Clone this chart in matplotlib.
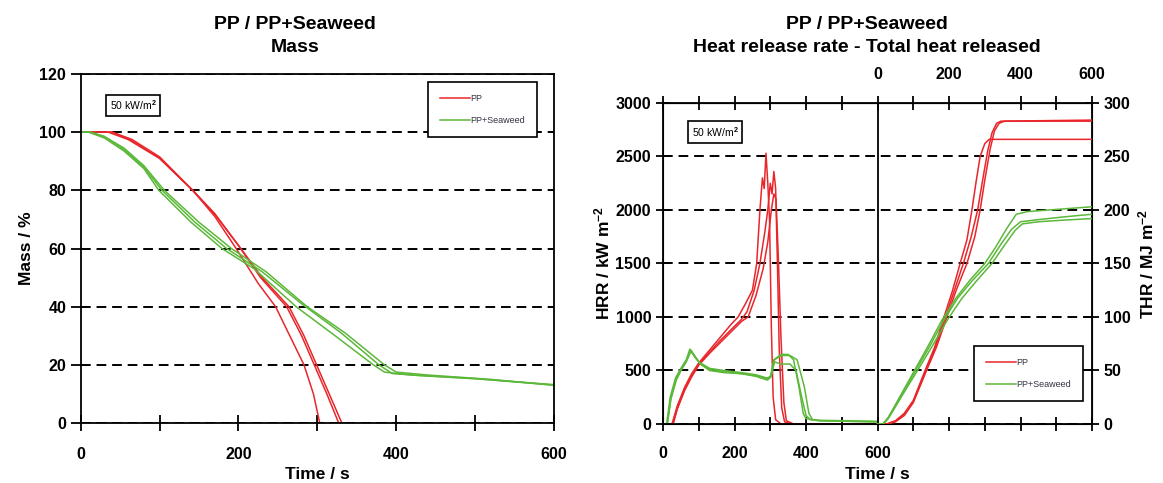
import matplotlib.pyplot as plt

# Font chữ
plt.rcParams['font.family'] = ['Liberation Sans', 'DejaVu Sans']
plt.rcParams['font.weight'] = 'bold'
plt.rcParams['mathtext.fontset'] = 'custom'
plt.rcParams['mathtext.rm'] = 'Liberation Sans:bold'
plt.rcParams['mathtext.default'] = 'rm'

# ---- Dữ liệu khối lượng (Mass, %) ----
t_mass_pp1 = [0, 35, 60, 100, 142, 170, 197, 225, 247, 265, 283, 295, 303]
mass_pp1 = [100, 100, 97.5, 91, 80, 71, 60, 48, 40, 30, 20, 10, 0]
t_mass_pp2 = [0, 40, 65, 100, 142, 170, 200, 228, 261, 280, 296, 312, 327]
mass_pp2 = [100, 100, 97.5, 91.5, 80, 72, 61, 50, 40, 30, 20, 10, 0]
t_mass_pp3 = [0, 40, 65, 100, 142, 172, 203, 230, 264, 283, 299, 315, 331]
mass_pp3 = [100, 100, 97, 91, 80, 71, 60, 50, 40, 30, 20, 10, 0]

t_mass_sw1 = [0, 10, 30, 55, 80, 99, 140, 179, 220, 273, 320, 371, 385, 420, 500, 600]
mass_sw1 = [100, 100, 98, 93.5, 87.5, 80, 69, 60, 53, 40, 30.5, 20, 17.5, 16.5, 15.3, 13]
t_mass_sw2 = [0, 12, 30, 55, 80, 103, 145, 185, 230, 280, 330, 378, 395, 430, 500, 600]
mass_sw2 = [100, 100, 98.5, 94, 88, 80, 69, 60, 52, 41, 31, 20, 17, 16.3, 15.2, 13.2]
t_mass_sw3 = [0, 12, 30, 55, 80, 106, 150, 191, 235, 287, 335, 385, 400, 440, 520, 600]
mass_sw3 = [100, 100, 98.5, 94.5, 88.5, 80, 69, 60, 52, 40, 31, 20, 17.5, 16.5, 15, 13]

# ---- Dữ liệu HRR (kW/m2) ----
t_hrr_pp1 = [0, 25, 40, 60, 80, 100, 130, 160, 190, 210, 230, 250, 262, 271, 278, 283, 288, 293,
             298, 303, 308, 315, 330, 600]
hrr_pp1 = [0, 0, 170, 340, 470, 570, 690, 810, 930, 1000, 1120, 1250, 1500, 2000, 2300, 2200, 2530,
           2250, 1900, 900, 250, 40, 0, 0]
t_hrr_pp2 = [0, 28, 40, 60, 80, 100, 130, 160, 190, 220, 235, 255, 271, 285, 293, 300, 305, 310,
             315, 320, 325, 332, 340, 360, 600]
hrr_pp2 = [0, 0, 150, 320, 450, 560, 670, 780, 880, 980, 1050, 1250, 1500, 1800, 2000, 2250, 2150,
           2360, 2200, 1500, 700, 150, 20, 0, 0]
t_hrr_pp3 = [0, 28, 40, 60, 80, 100, 130, 160, 190, 220, 238, 260, 280, 293, 303, 310, 316, 322,
             330, 338, 345, 365, 600]
hrr_pp3 = [0, 0, 140, 310, 440, 550, 660, 760, 860, 960, 1000, 1200, 1450, 1700, 2000, 2150, 2100,
           1600, 800, 200, 30, 0, 0]

t_hrr_sw1 = [0, 10, 20, 35, 50, 65, 75, 85, 100, 130, 170, 220, 260, 290, 300, 310, 330, 350, 365,
             380, 392, 400, 430, 600]
hrr_sw1 = [0, 0, 250, 430, 520, 600, 700, 650, 580, 520, 500, 480, 460, 430, 440, 600, 650, 650, 600,
           350, 100, 50, 35, 25]
t_hrr_sw2 = [0, 12, 22, 37, 50, 65, 78, 90, 105, 130, 170, 220, 260, 292, 302, 312, 330, 355, 372,
             388, 400, 412, 440, 600]
hrr_sw2 = [0, 0, 250, 420, 500, 590, 690, 630, 560, 510, 490, 470, 450, 420, 450, 580, 560, 560, 500,
           250, 80, 40, 30, 20]
t_hrr_sw3 = [0, 12, 22, 37, 50, 65, 78, 90, 105, 130, 170, 220, 260, 292, 302, 312, 330, 355, 375,
             395, 408, 418, 440, 600]
hrr_sw3 = [0, 0, 230, 410, 500, 580, 680, 620, 560, 500, 480, 470, 445, 410, 440, 600, 640, 640, 600,
           350, 100, 40, 30, 20]

# ---- Dữ liệu THR (MJ/m2) ----
t_thr_pp1 = [0, 25, 50, 75, 100, 133, 160, 186, 210, 231, 250, 264, 275, 287, 300, 312, 330, 600]
thr_pp1 = [0, 0, 3, 10, 22, 50, 72, 100, 125, 150, 172, 200, 225, 250, 262, 266, 266, 266]
t_thr_pp2 = [0, 28, 50, 75, 100, 135, 162, 190, 215, 240, 262, 280, 295, 308, 320, 333, 345, 600]
thr_pp2 = [0, 0, 2.5, 9, 21, 50, 72, 100, 125, 150, 175, 200, 230, 255, 272, 281, 283, 284]
t_thr_pp3 = [0, 28, 50, 75, 100, 137, 165, 194, 220, 250, 272, 287, 300, 315, 327, 340, 355, 600]
thr_pp3 = [0, 0, 2, 8, 20, 50, 72, 100, 125, 150, 175, 200, 228, 257, 274, 281, 283, 283]

t_thr_sw1 = [0, 15, 30, 50, 75, 100, 140, 180, 220, 260, 300, 330, 360, 388, 420, 500, 600]
thr_sw1 = [0, 0, 6, 18, 33, 48, 72, 97, 118, 135, 150, 165, 182, 196, 198.5, 200.5, 203]
t_thr_sw2 = [0, 16, 30, 50, 75, 105, 145, 187, 225, 265, 310, 345, 375, 400, 450, 520, 600]
thr_sw2 = [0, 0, 6, 17, 32, 49, 72, 98, 118, 134, 150, 168, 182, 189, 191, 193.5, 196]
t_thr_sw3 = [0, 16, 30, 50, 75, 110, 150, 195, 235, 275, 320, 355, 385, 405, 450, 520, 600]
thr_sw3 = [0, 0, 5, 16, 30, 49, 71, 97, 117, 133, 150, 167, 181, 187, 189, 190.5, 192]

# Nhãn trục x
x_labels = ['0', '200', '400', '600']

RED = '#e8262b'
GREEN = '#5cb83a'
DASH = (0, (5, 3))

fig = plt.figure(figsize=(11.63, 4.83), dpi=100)

# ================= Biểu đồ khối lượng =================
ax1 = fig.add_axes([0.0694, 0.1242, 0.407, 0.7226])
ax1.plot(t_mass_pp1, mass_pp1, color=RED, lw=1.1, label='PP')
ax1.plot(t_mass_pp2, mass_pp2, color=RED, lw=1.1)
ax1.plot(t_mass_pp3, mass_pp3, color=RED, lw=1.1)
ax1.plot(t_mass_sw1, mass_sw1, color=GREEN, lw=1.1, label='PP+Seaweed')
ax1.plot(t_mass_sw2, mass_sw2, color=GREEN, lw=1.1)
ax1.plot(t_mass_sw3, mass_sw3, color=GREEN, lw=1.1)

ax1.set_xlim(0, 600)
ax1.set_ylim(0, 120)
ax1.set_xticks([0, 200, 400, 600])
ax1.set_xticklabels(x_labels)
ax1.set_xticks(range(0, 601, 100), minor=True)
ax1.set_yticks(range(0, 121, 20))
ax1.grid(axis='y', color='k', linestyle=DASH, linewidth=1.4)
ax1.tick_params(axis='y', direction='out', length=7, width=1.3, labelsize=11.5)
ax1.tick_params(axis='x', which='both', direction='inout', length=12, width=1.3,
                labelsize=11.5, pad=11)
for s in ax1.spines.values():
    s.set_linewidth(1.3)
ax1.set_ylabel('Mass / %', fontsize=12.5, fontweight='bold')
ax1.set_xlabel('Time / s', fontsize=12.5, fontweight='bold', labelpad=4)
ax1.text(0.1105, 0.911, '50 kW/m$^2$', transform=ax1.transAxes, fontsize=7.5, fontweight='normal',
         ha='center', va='center',
         bbox=dict(boxstyle='square,pad=0.35', fc='white', ec='k', lw=1.2))
leg1 = ax1.legend(loc='upper right', bbox_to_anchor=(0.964, 0.977), borderaxespad=0,
                  fontsize=6.5, handlelength=3.3, handletextpad=0.1, labelspacing=1.5,
                  borderpad=1.3, fancybox=False, framealpha=1, edgecolor='k')
leg1.get_frame().set_linewidth(1.2)
for txt in leg1.get_texts():
    txt.set_fontweight('normal')
    txt.set_color('#333344')

fig.text(0.254, 0.925, 'PP / PP+Seaweed\nMass', ha='center', va='center', fontsize=14,
         fontweight='bold', linespacing=1.45)

# ================= Biểu đồ HRR - THR =================
ax2 = fig.add_axes([0.5701, 0.1222, 0.3689, 0.6646])
ax2.plot(t_hrr_pp1, hrr_pp1, color=RED, lw=1.1)
ax2.plot(t_hrr_pp2, hrr_pp2, color=RED, lw=1.1)
ax2.plot(t_hrr_pp3, hrr_pp3, color=RED, lw=1.1)
ax2.plot(t_hrr_sw1, hrr_sw1, color=GREEN, lw=1.1)
ax2.plot(t_hrr_sw2, hrr_sw2, color=GREEN, lw=1.1)
ax2.plot(t_hrr_sw3, hrr_sw3, color=GREEN, lw=1.1)
ax2.set_xlim(0, 1200)
ax2.set_ylim(0, 3000)
ax2.set_yticks(range(0, 3001, 500))
ax2.set_xticks(range(0, 1201, 100))
ax2.set_xticklabels(['0', '', '200', '', '400', '', '600'] + [''] * 6)
ax2.grid(axis='y', color='k', linestyle=DASH, linewidth=1.4)
ax2.axvline(600, color='k', lw=1.3)
ax2.tick_params(axis='both', direction='inout', length=10, width=1.3, labelsize=11.5, top=True)
ax2.tick_params(axis='x', pad=11)
for s in ax2.spines.values():
    s.set_linewidth(1.3)
ax2.set_ylabel('HRR / kW m$^{-2}$', fontsize=12.5, fontweight='bold', labelpad=2)
ax2.set_xlabel('Time / s', fontsize=12.5, fontweight='bold', labelpad=4)
ax2.text(0.121, 0.9097, '50 kW/m$^2$', transform=ax2.transAxes, fontsize=7.5, fontweight='normal',
         ha='center', va='center',
         bbox=dict(boxstyle='square,pad=0.35', fc='white', ec='k', lw=1.2))

# trục x phía trên cho THR (bắt đầu từ 600)
top = ax2.secondary_xaxis('top', functions=(lambda x: x - 600, lambda x: x + 600))
top.set_xticks([0, 200, 400, 600])
top.set_xticklabels(x_labels)
top.tick_params(length=0, labelsize=11.5, pad=15)

# trục y bên phải cho THR
ax3 = ax2.twinx()
ax3.plot([t + 600 for t in t_thr_pp1], thr_pp1, color=RED, lw=1.1, label='PP')
ax3.plot([t + 600 for t in t_thr_pp2], thr_pp2, color=RED, lw=1.1)
ax3.plot([t + 600 for t in t_thr_pp3], thr_pp3, color=RED, lw=1.1)
ax3.plot([t + 600 for t in t_thr_sw1], thr_sw1, color=GREEN, lw=1.1, label='PP+Seaweed')
ax3.plot([t + 600 for t in t_thr_sw2], thr_sw2, color=GREEN, lw=1.1)
ax3.plot([t + 600 for t in t_thr_sw3], thr_sw3, color=GREEN, lw=1.1)
ax3.set_ylim(0, 300)
ax3.set_yticks(range(0, 301, 50))
ax3.tick_params(axis='y', direction='inout', length=10, width=1.3, labelsize=11.5)
ax3.set_ylabel('THR / MJ m$^{-2}$', fontsize=12.5, fontweight='bold', labelpad=4)
leg2 = ax3.legend(loc='upper right', bbox_to_anchor=(0.979, 0.243), borderaxespad=0,
                  fontsize=6.5, handlelength=3.3, handletextpad=0.1, labelspacing=1.5,
                  borderpad=1.3, fancybox=False, framealpha=1, edgecolor='k')
leg2.get_frame().set_linewidth(1.2)
for txt in leg2.get_texts():
    txt.set_fontweight('normal')
    txt.set_color('#333344')

fig.text(0.7455, 0.925, 'PP / PP+Seaweed\nHeat release rate - Total heat released', ha='center',
         va='center', fontsize=14, fontweight='bold', linespacing=1.45)

plt.savefig('out.png', dpi=100)
